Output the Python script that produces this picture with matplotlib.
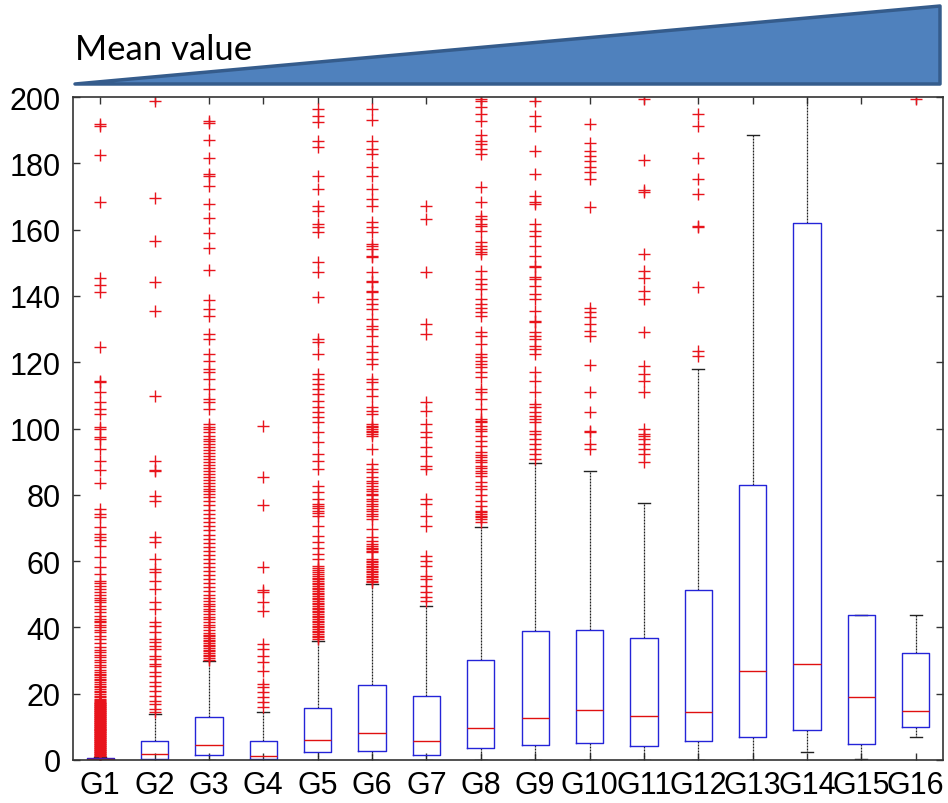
import matplotlib
matplotlib.use("Agg")
import matplotlib.pyplot as plt
from matplotlib.patches import Polygon

# ---- data -------------------------------------------------------------
groups = ["G1", "G2", "G3", "G4", "G5", "G6", "G7", "G8",
          "G9", "G10", "G11", "G12", "G13", "G14", "G15", "G16"]

q1 =      [0.0, 0.3, 1.5, 0.2, 2.3, 2.8, 1.5, 3.5, 4.6, 5.1, 4.1, 5.6, 7.0, 9.2, 4.8, 9.9]
median =  [0.2, 1.8, 4.6, 1.1, 6.0, 8.0, 5.8, 9.6, 12.7, 15.2, 13.3, 14.6, 26.8, 29.1, 18.9, 14.7]
q3 =      [0.5, 5.8, 12.9, 5.6, 15.6, 22.7, 19.2, 30.3, 38.8, 39.2, 36.8, 51.4, 83.1, 162.0, 43.7, 32.2]
whis_lo = [0.0, 0.0, 0.0, 0.0, 0.0, 0.0, 0.0, 0.0, 0.0, 0.0, 0.0, 0.0, 0.0, 2.3, 0.3, 7.0]
whis_hi = [1.0, 13.9, 30.0, 14.4, 36.0, 53.1, 46.4, 70.2, 89.6, 87.3, 77.5, 117.9, 188.4, 240.0, 43.7, 43.7]

outliers_g1 = [
    1.1, 1.3, 1.5, 1.7, 1.9, 2.1, 2.3, 2.5, 2.7, 2.9, 3.1, 3.3, 3.5, 3.7, 3.9,
    4.1, 4.3, 4.5, 4.7, 4.9, 5.1, 5.3, 5.5, 5.7, 5.9, 6.1, 6.3, 6.5, 6.7, 6.9,
    7.1, 7.3, 7.5, 7.7, 7.9, 8.1, 8.3, 8.5, 8.7, 8.9, 9.1, 9.3, 9.5, 9.7, 9.9,
    10.1, 10.3, 10.5, 10.7, 10.9, 11.1, 11.3, 11.5, 11.7, 11.9, 12.1, 12.3, 12.5,
    12.7, 12.9, 13.1, 13.3, 13.5, 13.7, 13.9, 14.1, 14.3, 14.5, 14.7, 14.9, 15.1,
    15.3, 15.5, 15.7, 15.9, 16.1, 16.3, 16.5, 16.7, 16.9, 17.1, 17.3, 17.5, 17.7,
    18.0, 18.4, 18.9, 19.4, 19.9, 20.4, 20.9, 21.4, 21.9, 22.4, 22.9, 23.4, 24.0,
    24.5, 25.0, 25.5, 26.0, 26.5, 27.3, 28.0, 28.8, 29.5, 30.3, 31.0, 31.8, 32.5,
    33.3, 34.0, 35.2, 36.5, 37.5, 38.5, 39.3, 40.0, 40.7, 41.5, 42.0, 42.5, 43.5,
    44.5, 45.5, 46.6, 47.6, 48.3, 49.0, 49.8, 50.6, 51.6, 52.6, 53.4, 54.1, 56.0,
    58.1, 61.1, 64.6, 66.5, 67.3, 68.2, 70.2, 73.2, 74.2, 75.7, 83.5, 87.6, 90.1,
    93.8, 96.8, 97.3, 99.8, 100.4, 104.5, 105.9, 107.9, 110.9, 113.9, 114.4, 124.5,
    141.1, 143.3, 145.3, 168.4, 182.5, 191.3, 191.8]

outliers_g2 = [
    14.4, 15.4, 16.9, 17.9, 19.4, 20.9, 22.4, 23.4, 25.4, 26.5, 28.5, 29.0, 30.5,
    31.5, 33.5, 34.5, 35.5, 36.5, 38.5, 40.5, 41.5, 45.5, 47.6, 51.6, 54.1, 56.6,
    57.6, 60.6, 65.9, 67.2, 78.2, 79.7, 87.3, 87.6, 90.3, 109.9, 135.3, 144.3,
    156.5, 169.4, 198.9]

outliers_g3 = [
    30.3, 30.8, 31.3, 31.8, 32.3, 32.8, 33.3, 33.8, 34.3, 34.8, 35.3, 35.8, 36.3,
    36.8, 37.3, 37.8, 38.4, 39.2, 40.0, 40.8, 41.6, 42.4, 43.2, 44.0, 44.8, 45.6,
    46.4, 47.2, 48.0, 48.8, 49.9, 51.0, 52.3, 53.5, 54.6, 55.8, 57.0, 58.3, 59.5,
    60.6, 61.8, 63.0, 64.3, 65.6, 66.8, 68.0, 69.3, 70.5, 71.8, 73.0, 74.3, 75.5,
    76.8, 78.0, 79.2, 80.1, 81.0, 81.9, 82.8, 83.7, 84.6, 85.5, 86.4, 87.3, 88.2,
    89.1, 90.0, 90.9, 91.8, 92.7, 93.6, 94.5, 95.4, 96.3, 96.8, 97.8, 98.8, 99.8,
    100.4, 101.4, 105.9, 107.9, 108.9, 111.9, 114.9, 116.9, 117.9, 120.5, 122.5,
    127.0, 128.5, 133.8, 136.0, 138.9, 147.8, 154.4, 159.0, 163.4, 167.7, 173.3,
    176.3, 176.8, 181.6, 187.1, 192.2, 192.9]

outliers_g4 = [
    15.9, 17.4, 18.9, 20.4, 21.9, 22.9, 26.9, 29.5, 31.5, 33.5, 35.0, 45.0, 47.8,
    50.6, 51.4, 58.3, 76.9, 85.5, 100.9]

outliers_g5 = [
    36.5, 37.0, 37.5, 38.0, 38.5, 39.0, 39.5, 40.0, 40.5, 41.0, 41.5, 42.0, 42.5,
    43.0, 43.5, 44.0, 44.5, 45.0, 45.5, 46.0, 46.5, 47.0, 47.5, 48.0, 48.5, 49.0,
    49.5, 50.0, 50.5, 51.0, 51.5, 52.0, 52.5, 53.0, 53.5, 54.0, 54.5, 55.0, 55.6,
    56.2, 56.8, 57.4, 58.0, 58.6, 60.6, 62.1, 64.1, 65.7, 67.7, 70.7, 73.7, 74.4,
    75.2, 75.9, 76.5, 77.2, 78.8, 80.8, 82.8, 87.8, 90.3, 92.3, 95.8, 98.8, 101.9,
    103.4, 104.9, 106.4, 108.4, 110.4, 111.9, 113.4, 114.9, 116.4, 122.5, 126.0,
    127.0, 139.6, 147.1, 150.1, 159.2, 160.7, 161.7, 165.7, 167.2, 172.2, 176.3,
    184.8, 186.8, 192.4, 194.4, 196.4]

outliers_g6 = [
    53.6, 54.1, 54.6, 55.1, 55.6, 56.1, 56.6, 57.1, 57.6, 58.1, 58.6, 59.1, 59.6,
    60.1, 60.6, 62.6, 63.1, 63.6, 64.1, 64.6, 65.3, 66.2, 67.2, 69.7, 72.7, 73.5,
    74.2, 75.2, 75.7, 76.5, 77.2, 78.0, 78.8, 79.8, 80.3, 81.0, 81.8, 82.8, 83.5,
    84.3, 85.3, 86.8, 87.8, 89.3, 93.8, 97.8, 98.3, 98.8, 99.3, 99.8, 100.4, 100.8,
    101.4, 104.4, 105.4, 106.4, 109.9, 111.9, 113.9, 114.9, 119.5, 121.0, 123.0,
    125.0, 128.0, 130.0, 131.0, 133.0, 136.0, 137.6, 139.1, 141.1, 141.6, 144.1,
    144.6, 147.1, 151.6, 152.1, 154.1, 155.2, 155.7, 159.2, 160.7, 162.2, 167.2,
    169.2, 172.2, 176.3, 178.8, 182.8, 184.3, 186.8, 193.2, 196.5]

outliers_g7 = [
    48.1, 49.1, 50.6, 52.6, 54.6, 55.6, 58.6, 60.1, 61.6, 70.7, 73.7, 77.2, 78.8,
    87.8, 88.8, 91.8, 94.3, 97.3, 98.8, 101.4, 105.4, 107.9, 128.5, 131.5, 147.1,
    163.2, 167.2]

outliers_g8 = [
    71.7, 72.7, 73.2, 73.5, 74.2, 74.7, 75.2, 76.7, 78.2, 79.8, 81.8, 82.8, 83.8,
    85.8, 86.6, 87.3, 88.0, 88.8, 89.8, 90.6, 91.3, 92.0, 92.8, 94.8, 96.3, 97.8,
    99.3, 99.8, 100.8, 101.9, 102.4, 102.9, 105.9, 108.9, 110.9, 111.9, 115.4,
    117.0, 118.5, 119.5, 120.5, 121.5, 122.5, 125.5, 128.0, 129.0, 134.0, 135.0,
    136.5, 137.6, 139.1, 142.1, 143.6, 145.1, 147.6, 152.6, 153.1, 154.1, 155.2,
    156.2, 159.7, 161.2, 161.7, 163.2, 164.2, 168.2, 172.7, 182.8, 184.3, 185.8,
    186.8, 188.4, 192.9, 194.9, 196.9, 198.9, 199.4]

outliers_g9 = [
    90.8, 92.3, 93.8, 95.3, 96.8, 98.3, 99.3, 101.9, 102.9, 103.9, 104.9, 106.4,
    107.4, 110.9, 114.4, 117.0, 122.5, 124.0, 125.0, 127.0, 128.0, 129.0, 132.0,
    132.5, 135.5, 139.1, 140.6, 143.1, 145.1, 145.6, 148.6, 149.1, 152.1, 155.2,
    158.2, 159.7, 161.7, 167.7, 168.2, 170.2, 176.8, 183.8, 191.4, 194.4, 198.9]

outliers_g10 = [
    93.8, 95.3, 98.8, 99.3, 104.9, 110.9, 119.2, 128.0, 129.5, 131.5, 133.5,
    135.0, 136.3, 166.9, 175.3, 177.3, 178.8, 180.8, 182.3, 183.8, 186.0, 192.0]

outliers_g11 = [
    90.0, 92.3, 93.8, 95.3, 96.8, 97.8, 98.3, 99.8, 110.9, 114.4, 116.5, 118.8,
    129.0, 139.1, 141.6, 145.3, 147.6, 152.6, 171.2, 171.9, 180.9, 199.4]

outliers_g12 = [122.0, 123.5, 142.6, 160.7, 161.0, 170.7, 175.3, 181.6, 191.4, 194.9]

outliers_g13 = []
outliers_g14 = []
outliers_g15 = []
outliers_g16 = [199.4]

outliers = [outliers_g1, outliers_g2, outliers_g3, outliers_g4, outliers_g5,
            outliers_g6, outliers_g7, outliers_g8, outliers_g9, outliers_g10,
            outliers_g11, outliers_g12, outliers_g13, outliers_g14, outliers_g15,
            outliers_g16]

y_ticks = [0, 20, 40, 60, 80, 100, 120, 140, 160, 180, 200]
banner_label = "Mean value"

# ---- figure -----------------------------------------------------------
W, H = 948, 804
fig = plt.figure(figsize=(W / 100, H / 100), dpi=100)
fig.patch.set_facecolor("white")
ax = fig.add_axes([73 / W, 43 / H, 870 / W, 663 / H])

stats = []
for i, name in enumerate(groups):
    stats.append(dict(label=name, q1=q1[i], med=median[i], q3=q3[i],
                      whislo=whis_lo[i], whishi=whis_hi[i], fliers=outliers[i]))

parts = ax.bxp(stats, positions=range(1, len(groups) + 1), widths=0.5,
               capwidths=0.22, showfliers=True, manage_ticks=False,
               boxprops=dict(color="#2424d8", linewidth=1.0),
               medianprops=dict(color="#e01010", linewidth=1.0),
               whiskerprops=dict(color="#222222", linewidth=0.9,
                                 linestyle=(0, (1.6, 0.8))),
               capprops=dict(color="#222222", linewidth=1.0),
               flierprops=dict(marker="+", markersize=8.5,
                               markeredgecolor="#e8141c",
                               markeredgewidth=1.0, linestyle="none"))
# keep the box outline on top of whisker caps that coincide with it
for cap in parts["caps"]:
    cap.set_zorder(1.8)
for wh in parts["whiskers"]:
    wh.set_zorder(1.8)
for box in parts["boxes"]:
    box.set_zorder(2.2)
for med in parts["medians"]:
    med.set_zorder(2.3)

ax.set_xlim(0.5, len(groups) + 0.5)
ax.set_ylim(0, 200)
ax.set_xticks(range(1, len(groups) + 1))
ax.set_xticklabels(groups)
ax.set_yticks(y_ticks)
ax.tick_params(direction="in", length=5, width=1.0, color="#333333",
               top=True, right=True, labelsize=22, labelcolor="black")
ax.tick_params(axis="y", pad=9)
ax.tick_params(axis="x", pad=7)
for lab in ax.get_xticklabels() + ax.get_yticklabels():
    lab.set_fontfamily("Liberation Sans")
for sp in ax.spines.values():
    sp.set_color("#333333")
    sp.set_linewidth(1.2)

# ---- rising "mean value" wedge above the axes -------------------------
wedge = Polygon([(75 / W, 1 - 85 / H), (940 / W, 1 - 7 / H), (940 / W, 1 - 85 / H)],
                closed=True, transform=fig.transFigure, facecolor="#4f81bd",
                edgecolor="#355c8c", linewidth=2.5, joinstyle="round")
fig.patches.append(wedge)
fig.text(75 / W, 1 - 60 / H, banner_label, fontsize=25, family="Lato",
         va="baseline", ha="left", color="black")

fig.savefig("out.png", dpi=100, facecolor="white")
